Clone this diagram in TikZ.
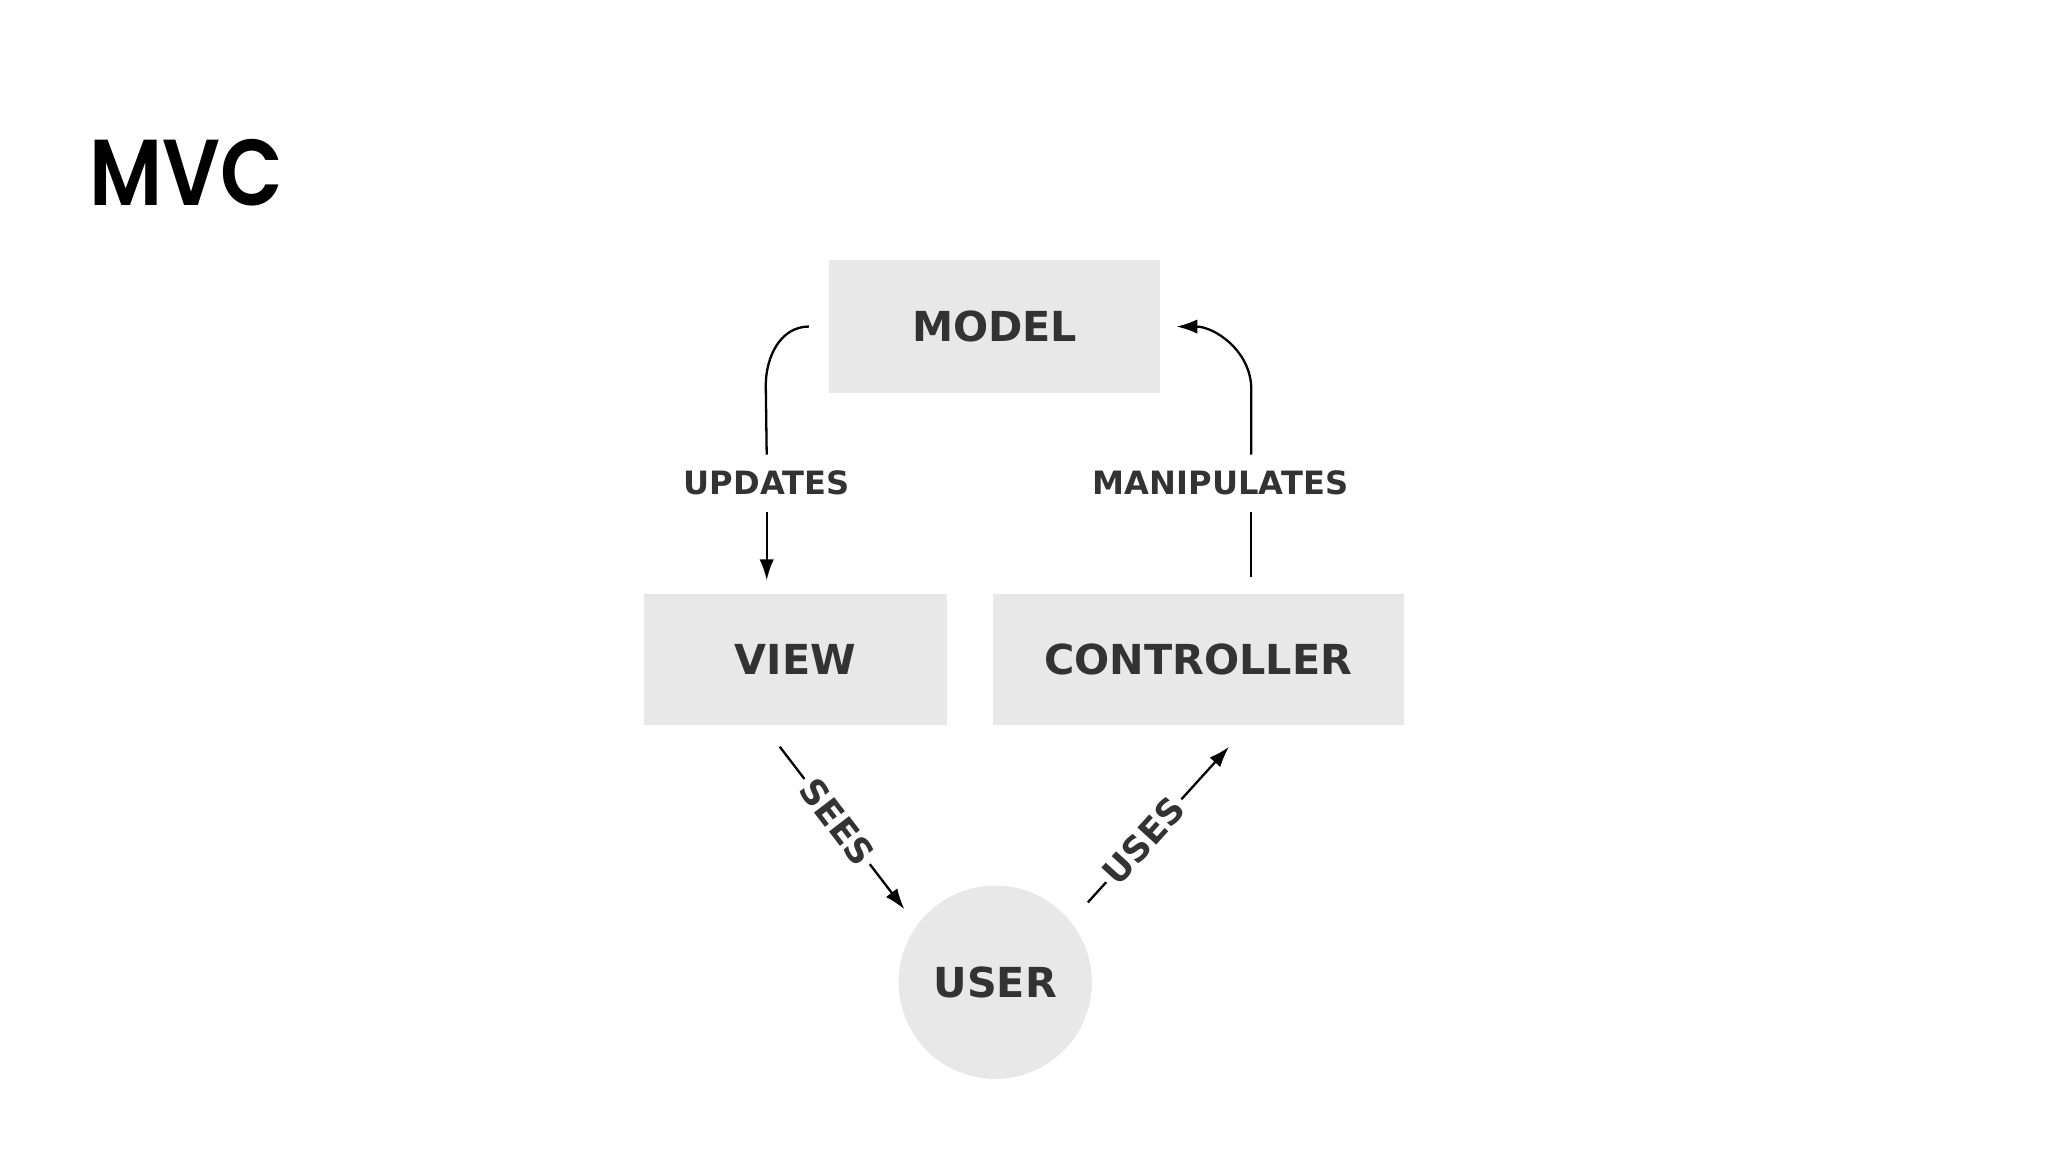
\documentclass[tikz,border=0pt]{standalone}
\usepackage{fontspec}
\setmainfont{DejaVu Sans}
\newfontfamily\titlefont{Poppins}[UprightFont={* SemiBold}, FakeStretch=0.87]
\usetikzlibrary{arrows.meta}
\definecolor{boxgray}{HTML}{E8E8E8}
\definecolor{txtgray}{HTML}{333333}

\begin{document}
\begin{tikzpicture}[
  box/.style={fill=boxgray, inner sep=0pt, text=txtgray,
    font=\fontsize{9}{10}\selectfont\bfseries},
  lbl/.style={text=txtgray, inner xsep=1pt, inner ysep=1.2mm,
    font=\fontsize{7}{8}\selectfont\bfseries},
  tag/.style={text=txtgray, fill=white, inner sep=1pt, sloped,
    font=\fontsize{7.6}{9}\selectfont\bfseries},
  link/.style={line width=0.5pt},
  flow/.style={line width=0.5pt, -{Latex[length=1.6mm,width=1.1mm]}},
]
  \useasboundingbox (0,0) rectangle (15.68,-8.82);

  %% --- title ---
  \node[anchor=base west, inner sep=0pt, font=\titlefont\fontsize{20.4}{24}\selectfont]
    (title) at (0.68,-1.57) {MVC};

  %% --- the three parts and the user ---
  \node[box, minimum width=2.53cm, minimum height=1.02cm] (model) at (7.615,-2.50) {MODEL};
  \node[box, minimum width=2.32cm, minimum height=1.00cm] (view)  at (6.09,-5.05)  {VIEW};
  \node[box, minimum width=3.15cm, minimum height=1.00cm] (ctrl)  at (9.175,-5.05) {CONTROLLER};
  \node[box, circle, minimum size=1.48cm] (user) at (7.62,-7.52) {USER};

  %% --- model -> view ---
  \node[lbl] (updates) at (5.87,-3.70) {UPDATES};
  \draw[link] ([xshift=-1.5mm]model.west) to[out=180, in=90] ++(-0.33,-0.45) -- (updates.north);
  \draw[flow] (updates.south) -- ([yshift=1mm]updates.south |- view.north);

  %% --- controller -> model ---
  \node[lbl] (manip) at (9.345,-3.70) {MANIPULATES};
  \coordinate (mx) at (9.58,-4.42);
  \draw[link] (mx) -- (mx |- manip.south);
  \draw[flow] (mx |- manip.north) -- ++(0,0.50) to[out=90, in=0] ([xshift=1.2mm]model.east);

  %% --- view -> user -> controller ---
  \draw[flow, shorten >=1.5mm] ([xshift=-1.2mm, yshift=-1.6mm]view.south)
    -- node[tag, pos=0.42] {SEES} (user.144);
  \draw[flow, shorten <=1.9mm] (user.39)
    -- node[tag, pos=0.46] {USES} ([xshift=2.35mm, yshift=-1.6mm]ctrl.south);
\end{tikzpicture}
\end{document}
